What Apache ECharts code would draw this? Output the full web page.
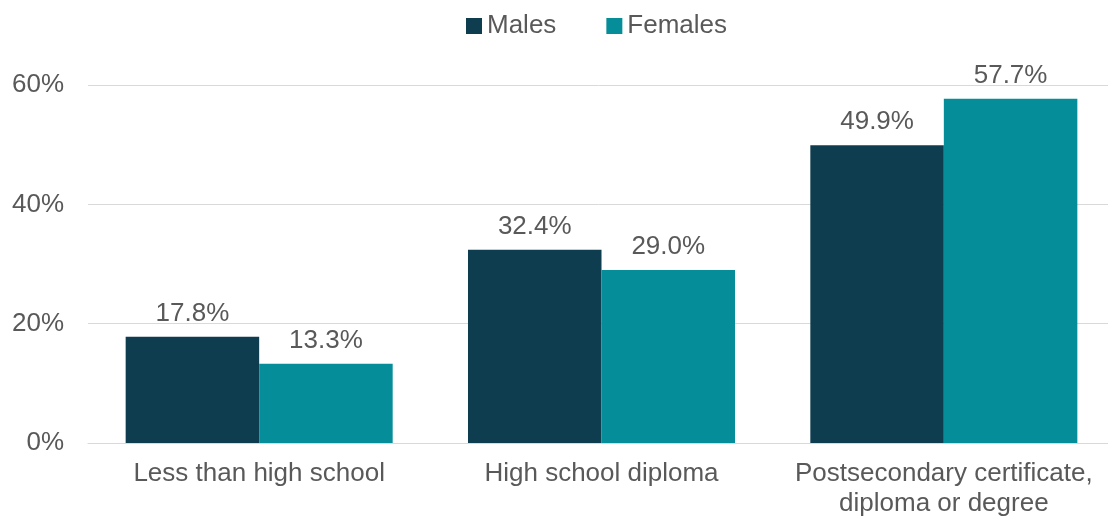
<!DOCTYPE html>
<html>
<head>
<meta charset="utf-8">
<script src="https://cdn.jsdelivr.net/npm/echarts@6/dist/echarts.min.js"></script>
<style>
  html, body { margin: 0; padding: 0; background: #ffffff; overflow: hidden; }
  #chart { width: 1108px; height: 517px; }
</style>
</head>
<body>
<div id="chart"></div>
<script>
// Share of population by highest level of education, by sex
const categories = ['Less than high school', 'High school diploma', 'Postsecondary certificate,\ndiploma or degree'];
const males = [17.8, 32.4, 49.9];
const females = [13.3, 29.0, 57.7];
const seriesNames = ['Males', 'Females'];

const textColor = '#595959';
const fontFamily = '"Liberation Sans", Arial, sans-serif';
const fontSize = 26;

const labelStyle = {
  show: true,
  position: 'top',
  distance: 10,
  color: textColor,
  fontFamily: fontFamily,
  fontSize: fontSize,
  formatter: p => p.value.toFixed(1) + '%'
};

const chart = echarts.init(document.getElementById('chart'), null, { renderer: 'canvas' });
chart.setOption({
  animation: false,
  backgroundColor: '#ffffff',
  legend: {
    top: 8,
    left: 461,
    icon: 'rect',
    itemWidth: 16,
    itemHeight: 16,
    itemGap: 50,
    textStyle: { color: textColor, fontFamily: fontFamily, fontSize: fontSize },
    data: seriesNames
  },
  // plot area runs slightly past the right edge of the canvas
  grid: {
    left: 88, width: 1027, top: 85, bottom: 74,
    containLabel: false, outerBoundsMode: 'none'
  },
  xAxis: {
    type: 'category',
    data: categories,
    axisTick: { show: false },
    axisLine: { lineStyle: { color: '#d9d9d9', width: 1 } },
    axisLabel: {
      color: textColor, fontFamily: fontFamily, fontSize: fontSize,
      margin: 16, lineHeight: 30, interval: 0
    }
  },
  yAxis: {
    type: 'value',
    min: 0, max: 60, interval: 20,
    axisLine: { show: false },
    axisTick: { show: false },
    splitLine: { lineStyle: { color: '#d9d9d9', width: 1 } },
    axisLabel: {
      color: textColor, fontFamily: fontFamily, fontSize: fontSize,
      margin: 24, formatter: v => v + '%'
    }
  },
  series: [
    {
      name: seriesNames[0], type: 'bar', data: males,
      itemStyle: { color: '#0f3d50' },
      barGap: '0%', barCategoryGap: '22%',
      label: labelStyle
    },
    {
      name: seriesNames[1], type: 'bar', data: females,
      itemStyle: { color: '#058e99' },
      barGap: '0%', barCategoryGap: '22%',
      label: labelStyle
    }
  ]
});
</script>
</body>
</html>
